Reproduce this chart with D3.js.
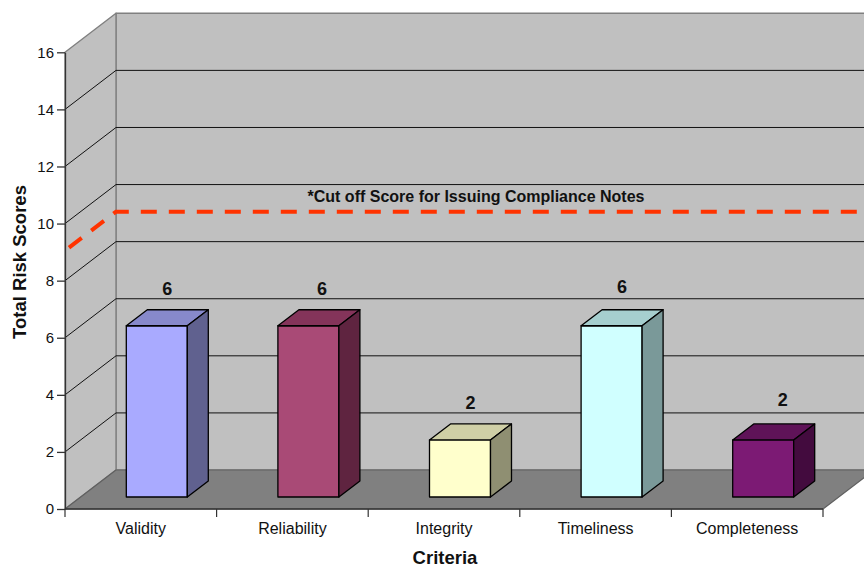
<!DOCTYPE html>
<html lang="en">
<head>
    <meta charset="UTF-8">
    <title>Total Risk Scores by Criteria</title>
    <script src="https://d3js.org/d3.v7.min.js"></script>
    <style>
    html, body { margin: 0; padding: 0; background: #fff; }
    svg { display: block; }
    text { font-family: "Liberation Sans", Arial, sans-serif; fill: #111; }
    .axis text { font-size: 15px; }
    .axis.x text { font-size: 16px; }
    .axis path, .axis line { fill: none; stroke: #333; stroke-width: 1.3; }
    .title { font-size: 18.5px; font-weight: bold; }
    .value { font-size: 18px; font-weight: bold; text-anchor: middle; }
    </style>
</head>
<body>
<script>
// data
var categories = ["Validity", "Reliability", "Integrity", "Timeliness", "Completeness"];
var scores = [6, 6, 2, 6, 2];
var frontColors = ["#a9aaff", "#a94a76", "#ffffcc", "#d0ffff", "#7c1a74"];
var topColors = ["#8789cb", "#84345a", "#cfcfa6", "#a6cfcf", "#5f1358"];
var sideColors = ["#60618f", "#5f2440", "#8f8f72", "#7a9999", "#430b3e"];
var yTicks = [0, 2, 4, 6, 8, 10, 12, 14, 16];
var cutOffScore = 9.05;
var cutOffLabel = "*Cut off Score for Issuing Compliance Notes";
// small hand adjustments of the value labels
var labelShiftX = [0, 3, 0, 0, 9];
var labelShiftY = [0, 0, 0, -2, -3];

var width = 864;
var height = 565;

// oblique projection of the chart box
var depthX = 51, depthY = 39;
var barDepthX = 21, barDepthY = 16;
var barInsetX = 16, barInsetY = 12;

var svg = d3.select("body").append("svg")
    .attr("width", width)
    .attr("height", height);

var xScale = d3.scaleBand().domain(categories).range([65, 823]);
var yScale = d3.scaleLinear().domain([0, 16]).range([509, 52.3]);

var x0 = xScale.range()[0], x1 = xScale.range()[1];
var yBase = yScale(0), yTop = yScale(16);

function poly(points, fill, stroke, sw) {
    return svg.append("polygon")
        .attr("points", points.map(function(p) { return p.join(","); }).join(" "))
        .attr("fill", fill)
        .attr("stroke", stroke || "none")
        .attr("stroke-width", sw || 1)
        .attr("stroke-linejoin", "round");
}

// back wall, side wall and floor
poly([[x0 + depthX, yTop - depthY], [x1 + depthX, yTop - depthY], [x1 + depthX, yBase - depthY], [x0 + depthX, yBase - depthY]], "#c0c0c0", "#808080", 1.4);
poly([[x0, yTop], [x0 + depthX, yTop - depthY], [x0 + depthX, yBase - depthY], [x0, yBase]], "#c0c0c0", "#808080", 1.4);

// grid lines on both walls
var gridTicks = yTicks.filter(function(d) { return d > 0 && d < 16; });
svg.append("g").selectAll("path")
    .data(gridTicks).enter()
    .append("path")
    .attr("fill", "none")
    .attr("stroke", "#111")
    .attr("stroke-width", 1)
    .attr("d", function(d) {
        return d3.line()([[x0, yScale(d)], [x0 + depthX, yScale(d) - depthY], [x1 + depthX, yScale(d) - depthY]]);
    });

poly([[x0, yBase], [x0 + depthX, yBase - depthY], [x1 + depthX, yBase - depthY], [x1, yBase]], "#808080", "#606060", 1.2);

// cut off line runs along the side wall, then the back wall
var cutY = yScale(cutOffScore);
svg.append("path")
    .attr("fill", "none")
    .attr("stroke", "#ff3300")
    .attr("stroke-width", 4)
    .attr("stroke-dasharray", "16 12")
    .attr("d", d3.line()([[x0 + 4, cutY - 3], [x0 + depthX, cutY - depthY], [width, cutY - depthY]]));

svg.append("text")
    .attr("x", 476)
    .attr("y", 202)
    .attr("text-anchor", "middle")
    .attr("font-size", 16)
    .attr("font-weight", "bold")
    .text(cutOffLabel);

// bars
var barWidth = 61;
var bars = svg.append("g");
categories.forEach(function(c, i) {
    var left = xScale(c) + (xScale.bandwidth() - barWidth) / 2 + barInsetX;
    var right = left + barWidth;
    var top = yScale(scores[i]) - barInsetY;
    var bottom = yScale(0) - barInsetY;
    var g = bars.append("g").attr("stroke", "#000").attr("stroke-width", 1.3).attr("stroke-linejoin", "round");

    g.append("rect")
        .attr("x", left).attr("y", top)
        .attr("width", barWidth).attr("height", bottom - top)
        .attr("fill", frontColors[i]);
    g.append("polygon")
        .attr("points", [[left, top], [left + barDepthX, top - barDepthY], [right + barDepthX, top - barDepthY], [right, top]].join(" "))
        .attr("fill", topColors[i]);
    g.append("polygon")
        .attr("points", [[right, top], [right + barDepthX, top - barDepthY], [right + barDepthX, bottom - barDepthY], [right, bottom]].join(" "))
        .attr("fill", sideColors[i]);

    svg.append("text")
        .attr("class", "value")
        .attr("x", left + barWidth / 2 + barDepthX / 2 + labelShiftX[i])
        .attr("y", top - barDepthY - 15 + labelShiftY[i])
        .text(scores[i]);
});

// axes
var yAxis = d3.axisLeft(yScale).tickValues(yTicks).tickSize(8).tickPadding(3).tickSizeOuter(0);
svg.append("g").attr("class", "axis").attr("transform", "translate(" + x0 + ",0)").call(yAxis);

var xAxis = d3.axisBottom(xScale).tickSize(0).tickPadding(14);
var xAxisG = svg.append("g").attr("class", "axis x").attr("transform", "translate(0," + yBase + ")").call(xAxis);
xAxisG.select(".domain").attr("stroke", "#000").attr("d", "M" + x0 + ",0H" + x1);

// tick marks sit between the categories
svg.append("g").selectAll("line")
    .data(categories.concat(["end"])).enter()
    .append("line")
    .attr("x1", function(d, i) { return x0 + i * xScale.step(); })
    .attr("x2", function(d, i) { return x0 + i * xScale.step(); })
    .attr("y1", yBase)
    .attr("y2", yBase + 8)
    .attr("stroke", "#333")
    .attr("stroke-width", 1.2);

svg.append("text")
    .attr("class", "title")
    .attr("x", 445).attr("y", 564)
    .attr("text-anchor", "middle")
    .text("Criteria");

svg.append("text")
    .attr("class", "title")
    .attr("text-anchor", "middle")
    .attr("transform", "translate(26,262) rotate(-90)")
    .text("Total Risk Scores");
</script>
</body>
</html>
